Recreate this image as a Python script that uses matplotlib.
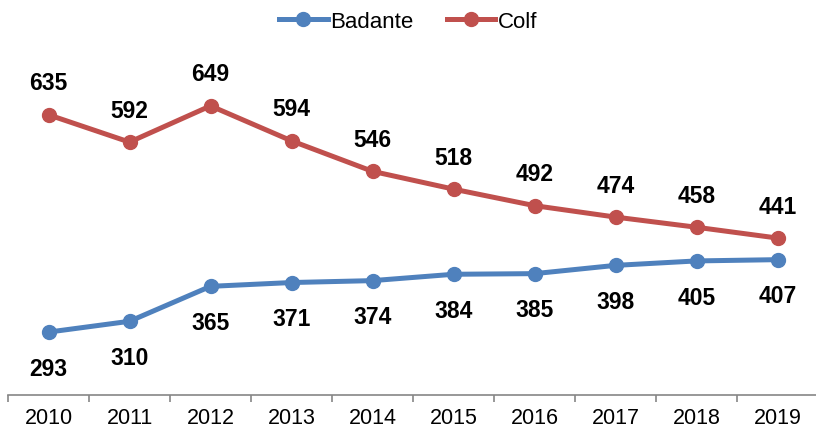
import numpy as np
import matplotlib.pyplot as plt

plt.rcParams['font.family'] = ['Liberation Sans', 'DejaVu Sans']

years = ['2010', '2011', '2012', '2013', '2014', '2015', '2016', '2017', '2018', '2019']
badante = [293, 310, 365, 371, 374, 384, 385, 398, 405, 407]
colf = [635, 592, 649, 594, 546, 518, 492, 474, 458, 441]

blue = '#4F81BD'
red = '#C0504D'

fig = plt.figure(figsize=(8.16, 4.31), dpi=100)
ax = fig.add_axes([8 / 816, 35 / 431, 810 / 816, 366 / 431])

x = np.arange(len(years))
ax.plot(x, badante, color=blue, lw=3.6, marker='o', ms=10, label='Badante')
ax.plot(x, colf, color=red, lw=3.6, marker='o', ms=10, label='Colf')

# value labels: Colf above, Badante below
for xi, v in zip(x, colf):
    ax.annotate(str(v), (xi, v), xytext=(0, 23), textcoords='offset points',
                ha='center', va='center', fontsize=16.5, fontweight='bold')
for xi, v in zip(x, badante):
    ax.annotate(str(v), (xi, v), xytext=(0, -26), textcoords='offset points',
                ha='center', va='center', fontsize=16.5, fontweight='bold')

ax.set_xlim(-0.5, 9.5)
ax.set_ylim(194, 770)

for s in ['left', 'right', 'top']:
    ax.spines[s].set_visible(False)
ax.spines['bottom'].set_color('#868686')
ax.spines['bottom'].set_linewidth(1.2)
ax.set_yticks([])

ax.set_xticks(x)
ax.set_xticklabels(years, fontsize=15.5)
ax.tick_params(axis='x', which='major', length=0, pad=9)
ax.set_xticks(np.arange(-0.5, 10, 1), minor=True)
ax.tick_params(axis='x', which='minor', length=5, width=1.2, color='#868686')

fig.legend(loc='center', bbox_to_anchor=(0.5, 1 - 22 / 431), ncol=2, frameon=False,
           fontsize=16, handlelength=2.2, handletextpad=0.1, columnspacing=1.5)

fig.savefig('out.png', dpi=100)
